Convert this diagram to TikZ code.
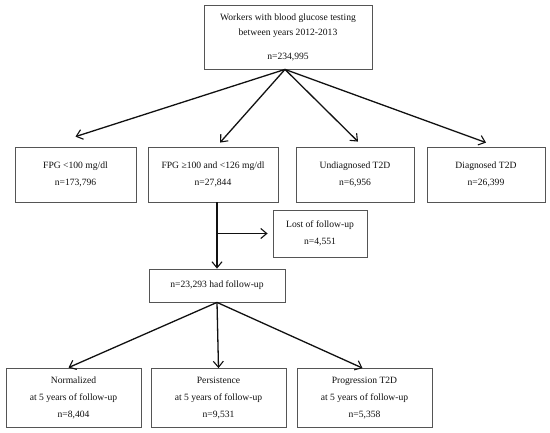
\documentclass[tikz,border=0pt]{standalone}
\usepackage{fontspec}
\setmainfont{Liberation Serif}
\usepackage{tikz}
\usetikzlibrary{arrows.meta,positioning,calc}
\definecolor{FlowRule}{HTML}{555555}
\definecolor{FlowInk}{HTML}{111111}

\begin{document}
\begin{tikzpicture}[x=1pt,y=-1pt,
  box/.style={draw=FlowRule,line width=0.8pt,fill=white,inner sep=0pt,align=center,font=\fontsize{9.6}{17}\selectfont,text=FlowInk},
  edge/.style={-{Straight Barb[length=6pt,width=10pt,line width=1.1pt]},draw=FlowInk,line width=1.3pt}
]
\useasboundingbox (0,0) rectangle (550,432);
\node[box,minimum width=168pt,minimum height=64pt] (workers) at (288,37) {Workers with blood glucose testing\\[-2pt]between years 2012-2013\\[7pt]n=234,995};
\node[box,minimum width=121pt,minimum height=55pt] (fpgLow) at (75.5,174.5) {FPG <100 mg/dl\\n=173,796};
\node[box,minimum width=130pt,minimum height=55pt] (fpgMid) at (213,174.5) {FPG ≥100 and <126 mg/dl\\n=27,844};
\node[box,minimum width=118pt,minimum height=55pt] (undiag) at (355,174.5) {Undiagnosed T2D\\n=6,956};
\node[box,minimum width=118pt,minimum height=55pt] (diag) at (486,174.5) {Diagnosed T2D\\n=26,399};
\node[box,minimum width=94pt,minimum height=47pt] (lost) at (320,233.5) {Lost of follow-up\\n=4,551};
\node[box,minimum width=136pt,minimum height=33pt] (followup) at (217,285.5) {n=23,293 had follow-up};
\node[box,minimum width=135pt,minimum height=59pt] (normal) at (73.5,397.5) {Normalized\\at 5 years of follow-up\\n=8,404};
\node[box,minimum width=135pt,minimum height=59pt] (persist) at (218.5,398) {Persistence\\at 5 years of follow-up\\n=9,531};
\node[box,minimum width=135pt,minimum height=59pt] (progress) at (364.5,398) {Progression T2D\\at 5 years of follow-up\\n=5,358};
% first split
\draw[edge] ([xshift=-3pt]workers.south) -- ([yshift=10pt]fpgLow.north);
\draw[edge] ([xshift=-3pt]workers.south) -- ([xshift=7pt,yshift=4pt]fpgMid.north);
\draw[edge] ([xshift=-3pt]workers.south) -- ([xshift=3pt,yshift=5pt]undiag.north);
\draw[edge] ([xshift=-3pt]workers.south) -- ([yshift=4pt]diag.north);
% follow-up branch
\draw[edge] (fpgMid.south -| followup.north) -- (followup.north);
\draw[edge] (lost.west -| followup.north) -- ([xshift=-5pt]lost.west);
% outcomes at 5 years
\draw[edge] (followup.south) -- ([xshift=-5pt]normal.north);
\draw[edge] (followup.south) -- (persist.north);
\draw[edge] (followup.south) -- ([xshift=-2pt]progress.north);
\end{tikzpicture}
\end{document}
